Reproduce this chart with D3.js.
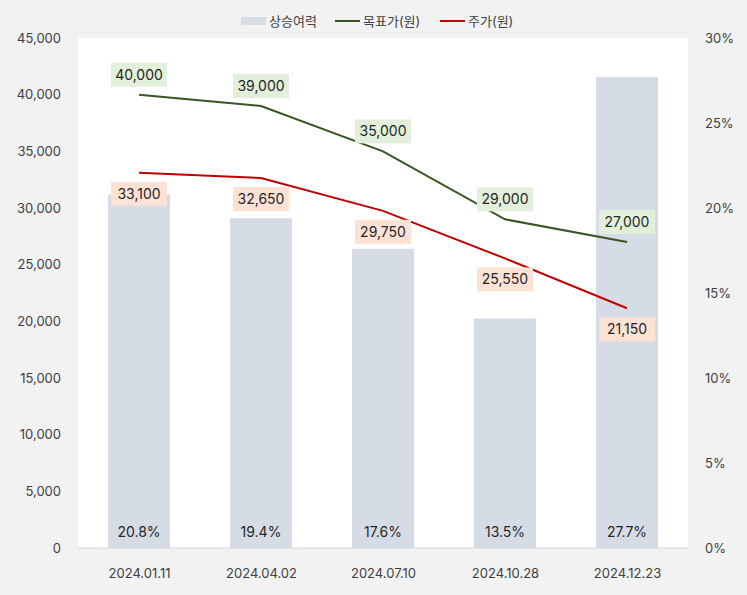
<!DOCTYPE html>
<html><head><meta charset="utf-8">
<script src="https://cdn.jsdelivr.net/npm/d3@7"></script>
<style>body{margin:0;background:#f2f2f2}text{font-family:Inter,"Noto Sans CJK KR",sans-serif}</style>
</head><body><svg id="c" width="747" height="595"></svg>
<script>
const dates = ["2024.01.11","2024.04.02","2024.07.10","2024.10.28","2024.12.23"];
const upside = [20.8, 19.4, 17.6, 13.5, 27.7];
const target = [40000, 39000, 35000, 29000, 27000];
const price = [33100, 32650, 29750, 25550, 21150];

const svg = d3.select("#c");
const m = {l: 78, r: 688, t: 38, b: 548};
svg.append("rect").attr("x", m.l).attr("y", m.t).attr("width", m.r - m.l).attr("height", m.b - m.t).attr("fill", "#fff");

const x = d3.scalePoint().domain(dates).range([m.l, m.r]).padding(0.5);
const bw = 62;
const yL = d3.scaleLinear().domain([0, 45000]).range([m.b, m.t]);
const yR = d3.scaleLinear().domain([0, 30]).range([m.b, m.t]);
const cx = d => x(d);

svg.append("g").attr("transform", `translate(${m.l - 14},0)`)
  .call(d3.axisLeft(yL).tickValues(d3.range(0, 45001, 5000)).tickFormat(d3.format(",")).tickSize(0))
  .call(g => g.select(".domain").remove());
svg.append("g").attr("transform", `translate(${m.r + 14},0)`)
  .call(d3.axisRight(yR).tickValues(d3.range(0, 31, 5)).tickFormat(d => d + "%").tickSize(0))
  .call(g => g.select(".domain").remove());
svg.append("g").attr("transform", `translate(0,${m.b + 18})`)
  .call(d3.axisBottom(x).tickSize(0))
  .call(g => g.select(".domain").remove());
svg.selectAll(".tick text").attr("font-size", 13).attr("fill", "#404040");
svg.append("line").attr("x1", m.l).attr("x2", m.r).attr("y1", m.b).attr("y2", m.b).attr("stroke", "#d9d9d9");

svg.selectAll(".bar").data(upside).enter().append("rect")
  .attr("x", (d, i) => cx(dates[i]) - bw / 2).attr("width", bw)
  .attr("y", d => yR(d)).attr("height", d => m.b - yR(d)).attr("fill", "#d6dce5");
svg.selectAll(".bl").data(upside).enter().append("text")
  .attr("x", (d, i) => cx(dates[i])).attr("y", m.b - 11).attr("text-anchor", "middle")
  .attr("font-size", 14).attr("fill", "#262626").text(d => d.toFixed(1) + "%");

function series(vals, color, bg, dy) {
  const line = d3.line().x((d, i) => cx(dates[i])).y(d => yL(d));
  svg.append("path").datum(vals).attr("d", line).attr("fill", "none").attr("stroke", color).attr("stroke-width", 2);
  const g = svg.selectAll(null).data(vals).enter().append("g")
    .attr("transform", (d, i) => `translate(${cx(dates[i])},${yL(d) + dy})`);
  g.append("rect").attr("x", -28).attr("y", -12).attr("width", 56).attr("height", 24).attr("fill", bg);
  g.append("text").attr("text-anchor", "middle").attr("dy", "0.36em").attr("font-size", 14).attr("fill", "#262626").text(d3.format(","));
}
series(target, "#375623", "#e2efda", -20);
series(price, "#c00000", "#fbe2d5", 21);

const leg = [{t: "상승여력", type: "bar", c: "#d6dce5", x: 241}, {t: "목표가(원)", c: "#375623", x: 335}, {t: "주가(원)", c: "#c00000", x: 440}];
leg.forEach(l => {
  if (l.type) svg.append("rect").attr("x", l.x).attr("y", 17).attr("width", 25).attr("height", 8).attr("fill", l.c);
  else svg.append("line").attr("x1", l.x).attr("x2", l.x + 25).attr("y1", 21).attr("y2", 21).attr("stroke", l.c).attr("stroke-width", 2);
  svg.append("text").attr("x", l.x + 28).attr("y", 21).attr("dy", "0.35em").attr("font-size", 13).attr("fill", "#404040").text(l.t);
});
</script></body></html>
